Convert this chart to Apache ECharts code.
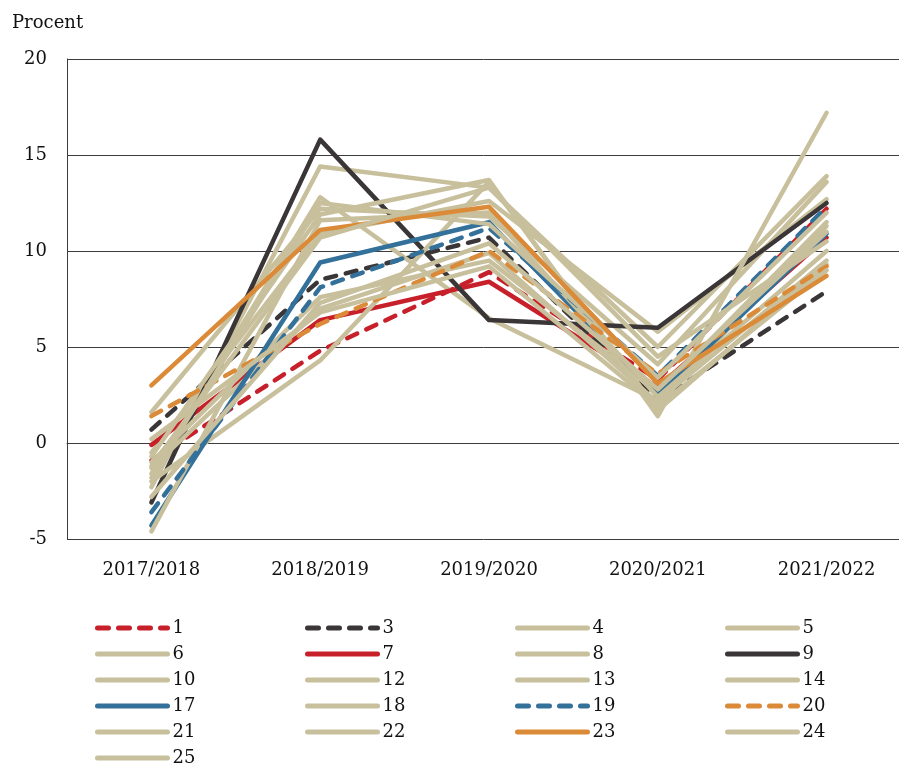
<!DOCTYPE html>
<html>
<head>
<meta charset="utf-8">
<script src="https://cdn.jsdelivr.net/npm/echarts@6/dist/echarts.min.js"></script>
<style>
  html, body { margin: 0; padding: 0; background: #fff; }
  #chart { width: 899px; height: 767px; }
</style>
</head>
<body>
<div id="chart"></div>
<script>
(function() {
  var categories = ['2017/2018', '2018/2019', '2019/2020', '2020/2021', '2021/2022'];
  var yTicks = [-5, 0, 5, 10, 15, 20];

  // series names and values (procent)
  var names = ['1', '3', '4', '5', '6', '7', '8', '9', '10', '12', '13', '14',
               '17', '18', '19', '20', '21', '22', '23', '24', '25'];
  var s1  = [-0.9, 4.8, 8.9, 3.3, 12.2];
  var s3  = [0.7, 8.5, 10.7, 2.2, 7.9];
  var s4  = [-1.6, 12.8, 6.5, 2.2, 9.5];
  var s5  = [1.6, 12.2, 11.8, 4.1, 13.6];
  var s6  = [-0.5, 10.9, 12.6, 5.8, 12.7];
  var s7  = [-0.1, 6.4, 8.4, 2.9, 10.7];
  var s8  = [-2.3, 14.4, 13.3, 5.0, 13.9];
  var s9  = [-3.1, 15.8, 6.4, 6.0, 12.5];
  var s10 = [-1.0, 7.6, 9.5, 2.6, 11.5];
  var s12 = [-0.7, 11.9, 13.7, 1.4, 17.2];
  var s13 = [-2.0, 4.3, 13.6, 1.7, 9.3];
  var s14 = [-1.3, 7.0, 9.9, 2.1, 11.3];
  var s17 = [-4.3, 9.4, 11.5, 2.5, 10.9];
  var s18 = [-4.6, 11.6, 12.0, 2.4, 10.0];
  var s19 = [-3.6, 8.1, 11.2, 3.5, 12.3];
  var s20 = [1.4, 6.2, 10.0, 3.6, 9.2];
  var s21 = [-1.8, 12.5, 11.4, 3.4, 12.0];
  var s22 = [0.2, 6.8, 9.2, 1.9, 9.0];
  var s23 = [3.0, 11.1, 12.3, 3.1, 8.7];
  var s24 = [-2.8, 7.3, 10.4, 2.8, 11.0];
  var s25 = [-1.2, 10.7, 13.3, 4.5, 10.5];
  var values = [s1, s3, s4, s5, s6, s7, s8, s9, s10, s12, s13, s14,
                s17, s18, s19, s20, s21, s22, s23, s24, s25];

  var beige = '#c8c09c';
  var red = '#c8202a';
  var dark = '#3a3536';
  var blue = '#33709a';
  var orange = '#db8a38';
  var grid = '#3c3c3c';
  var font = 'DejaVu Serif';

  // colour and dash per series
  var looks = {
    '1': [red, true], '3': [dark, true], '7': [red, false], '9': [dark, false],
    '17': [blue, false], '19': [blue, true], '20': [orange, true], '23': [orange, false]
  };

  var series = names.map(function(n, i) {
    var look = looks[n] || [beige, false];
    return {
      name: n,
      type: 'line',
      data: values[i],
      symbol: 'none',
      color: look[0],
      lineStyle: {
        color: look[0],
        width: 4.5,
        type: look[1] ? [11, 10] : 'solid',
        cap: 'round',
        join: 'round'
      }
    };
  });

  var legendCols = [
    ['1', '6', '10', '17', '21', '25'],
    ['3', '7', '12', '18', '22'],
    ['4', '8', '13', '19', '23'],
    ['5', '9', '14', '20', '24']
  ];
  var legendLeft = [95, 305, 515, 725];
  var legends = legendCols.map(function(col, i) {
    return {
      data: col,
      orient: 'vertical',
      left: legendLeft[i],
      top: 619,
      padding: 0,
      itemWidth: 70,
      itemHeight: 14,
      itemGap: 8,
      selectedMode: false,
      itemStyle: { opacity: 0 },
      lineStyle: { width: 5, cap: 'round' },
      textStyle: { color: '#111', fontSize: 18, fontFamily: font }
    };
  });

  var chart = echarts.init(document.getElementById('chart'), null, { renderer: 'canvas' });
  chart.setOption({
    animation: false,
    backgroundColor: '#fff',
    title: {
      text: 'Procent',
      left: 7,
      top: 9,
      textStyle: { color: '#111', fontSize: 18, fontWeight: 'normal', fontFamily: font }
    },
    legend: legends,
    grid: { left: 67, top: 59, width: 844, height: 480, outerBoundsMode: 'none' },
    xAxis: {
      type: 'category',
      data: categories,
      boundaryGap: true,
      axisLine: { show: true, lineStyle: { color: grid, width: 1 } },
      axisTick: { show: false },
      axisLabel: { color: '#111', fontSize: 18, fontFamily: font, margin: 22 },
      splitLine: { show: false }
    },
    yAxis: {
      type: 'value',
      min: yTicks[0],
      max: yTicks[yTicks.length - 1],
      interval: 5,
      axisLine: { show: true, lineStyle: { color: grid, width: 1 } },
      axisTick: { show: false },
      axisLabel: { color: '#111', fontSize: 18, fontFamily: font, margin: 20 },
      splitLine: { show: true, lineStyle: { color: grid, width: 1 } }
    },
    series: series
  });
})();
</script>
</body>
</html>
